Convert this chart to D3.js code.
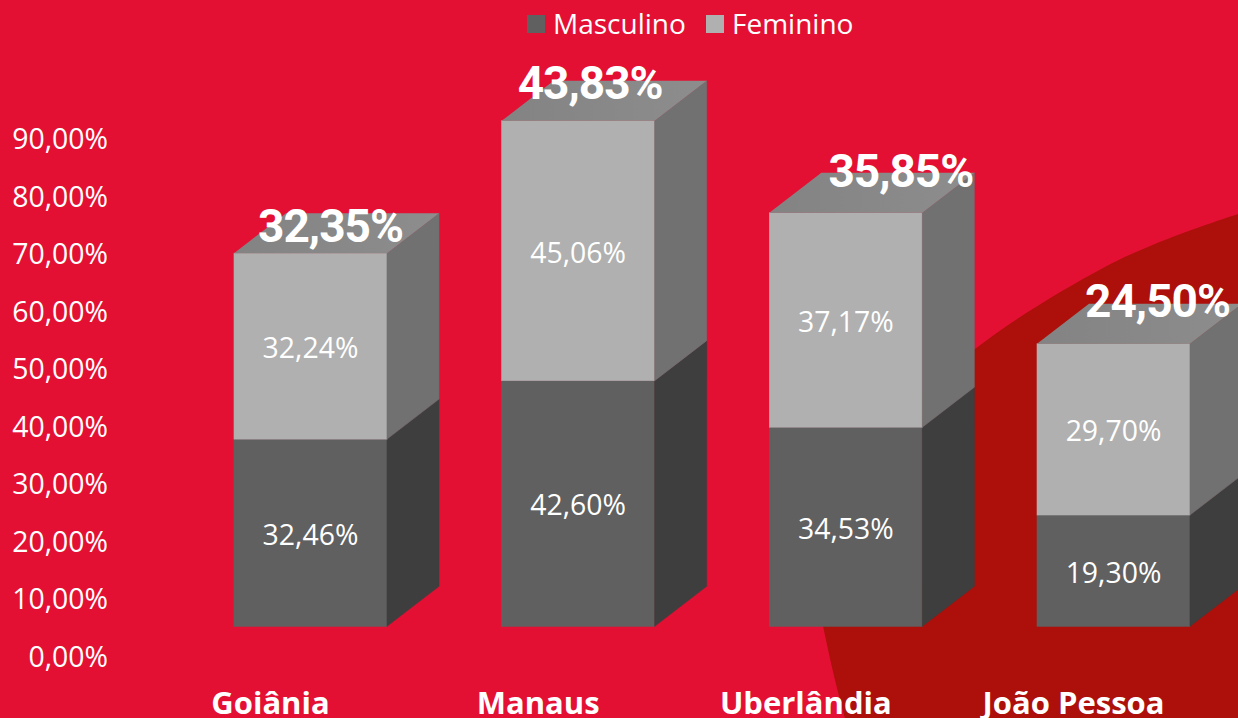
<!DOCTYPE html>
<html><head><meta charset="utf-8">
<script src="https://cdn.jsdelivr.net/npm/d3@7/dist/d3.min.js"></script>
<style>html,body{margin:0;padding:0;background:#E41033;overflow:hidden}svg{display:block}text{fill:#fff}</style>
</head><body><svg id="c" width="1238" height="718"></svg>
<script>
const categories = ["Goiânia","Manaus","Uberlândia","João Pessoa"];
const masculino = [32.46,42.60,34.53,19.30];
const feminino = [32.24,45.06,37.17,29.70];
const totals = [32.35,43.83,35.85,24.50];
const yTicks = [0,10,20,30,40,50,60,70,80,90];
const seriesNames = ["Masculino","Feminino"];
const palette = {Masculino:{front:"#606060",side:"#3e3e3e"},Feminino:{front:"#b0b0b0",side:"#717171"}};
const totalOffsets = [[20,-11],[12,-22],[55,-26],[44,-27]];

const W=1238,H=718,depthX=52,depthY=40;
const FONT="'Open Sans',sans-serif";
const svg=d3.select("#c");
const fmt=d3.formatLocale({decimal:",",thousands:".",grouping:[3],currency:["",""]}).format(".2f");
const pct=v=>fmt(v)+"%";

const defs=svg.append("defs");
const g=defs.append("linearGradient").attr("id","topG").attr("x1",0).attr("x2",1).attr("y1",0).attr("y2",0);
g.append("stop").attr("offset",0).attr("stop-color","#838383");
g.append("stop").attr("offset",1).attr("stop-color","#8d8d8d");

// background decoration
svg.append("rect").attr("width",W).attr("height",H).attr("fill","#E41033");
const edge=[[1238,214],[1170,238],[1103,268],[975,349],[880,440],[810,560],[823,626],[835,680],[845,718]];
svg.append("path").attr("fill","#AD0F0A")
  .attr("d",d3.line().curve(d3.curveCatmullRom)(edge)+`L${W},${H}Z`);

const x=d3.scaleBand().domain(categories).range([234,1190]).paddingInner(0.4284).paddingOuter(0);
const y=d3.scaleLinear().domain([0,90]).range([626.3,107.3]);
const yAxisScale=d3.scaleLinear().domain([0,90]).range([626.3,108.8]);

const rows=categories.map((c,i)=>({cat:c,Masculino:masculino[i],Feminino:feminino[i],i}));
const stack=d3.stack().keys(seriesNames)(rows);

// y axis (labels sit lower than the bars' front floor)
const axis=svg.append("g").attr("transform","translate(108,31)")
  .call(d3.axisLeft(yAxisScale).tickValues(yTicks).tickSize(0).tickPadding(0).tickFormat(pct));
axis.select(".domain").remove();
axis.selectAll("text").attr("font-family",FONT).attr("font-size",28.4).attr("fill","#fff");

// bars
stack.forEach(s=>{
  const col=palette[s.key];
  const gs=svg.append("g").selectAll("g").data(s).join("g");
  gs.append("rect").attr("fill",col.front).attr("stroke",col.front).attr("stroke-width",0.6)
    .attr("x",d=>x(d.data.cat)).attr("width",x.bandwidth())
    .attr("y",d=>y(d[1])).attr("height",d=>y(d[0])-y(d[1]));
  gs.append("path").attr("fill",col.side).attr("stroke",col.side).attr("stroke-width",0.6).attr("d",d=>{
    const r=x(d.data.cat)+x.bandwidth(),t=y(d[1]),b=y(d[0]);
    return `M${r},${t}L${r+depthX},${t-depthY}L${r+depthX},${b-depthY}L${r},${b}Z`;});
  if(s.key==="Feminino") gs.append("path").attr("fill","url(#topG)").attr("d",d=>{
    const l=x(d.data.cat),r=l+x.bandwidth(),t=y(d[1]);
    return `M${l},${t}L${l+depthX},${t-depthY}L${r+depthX},${t-depthY}L${r},${t}Z`;});
  gs.append("text").attr("text-anchor","middle").attr("font-family",FONT).attr("font-size",28.4)
    .attr("x",d=>x(d.data.cat)+x.bandwidth()/2)
    .attr("y",d=>(y(d[0])+y(d[1]))/2+12)
    .text(d=>pct(d[1]-d[0]));
});

// totals
svg.append("g").selectAll("text").data(rows).join("text")
  .attr("text-anchor","middle").attr("font-family","Roboto,sans-serif").attr("font-weight",700)
  .attr("font-size",46).attr("letter-spacing",-1)
  .attr("x",d=>x(d.cat)+x.bandwidth()/2+totalOffsets[d.i][0])
  .attr("y",d=>y(d.Masculino+d.Feminino)+totalOffsets[d.i][1])
  .text(d=>pct(totals[d.i]));

// category labels
svg.append("g").selectAll("text").data(categories).join("text")
  .attr("text-anchor","middle").attr("font-family",FONT).attr("font-weight",700).attr("font-size",31)
  .attr("x",d=>x(d)+x.bandwidth()/2-40).attr("y",714).text(d=>d);

// legend
const legend=[{n:"Masculino",sx:527,tx:553},{n:"Feminino",sx:706,tx:732}];
const lg=svg.append("g").selectAll("g").data(legend).join("g");
lg.append("rect").attr("x",d=>d.sx).attr("y",15).attr("width",18).attr("height",18).attr("fill",d=>palette[d.n].front);
lg.append("text").attr("x",d=>d.tx).attr("y",34).attr("font-family",FONT).attr("font-size",28).text(d=>d.n);
</script></body></html>
